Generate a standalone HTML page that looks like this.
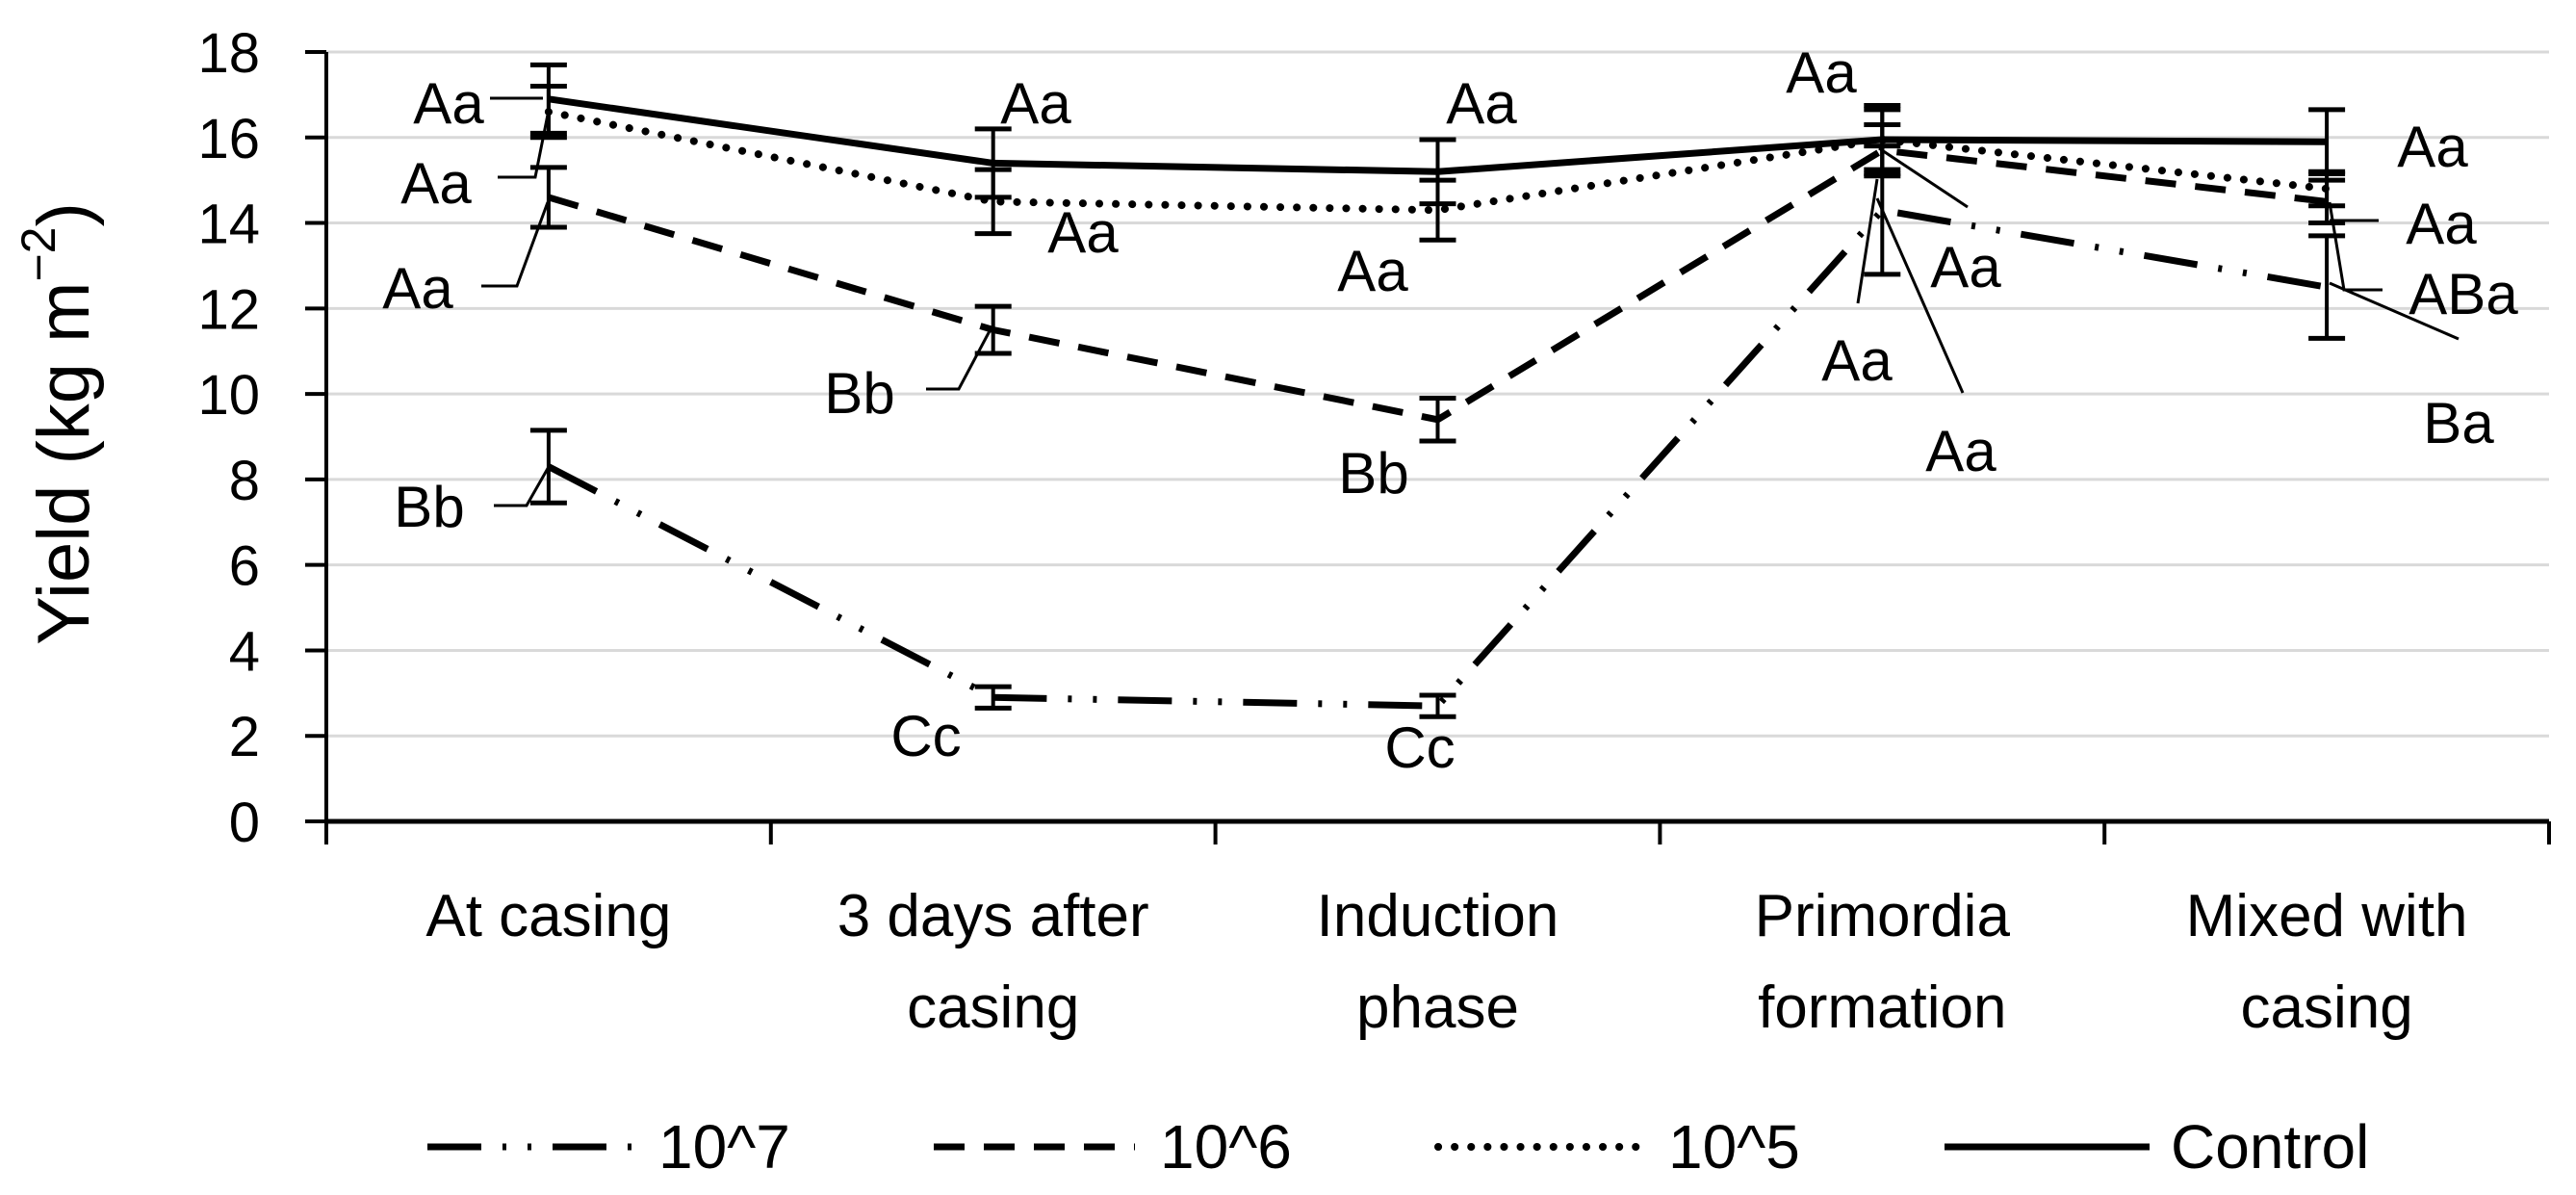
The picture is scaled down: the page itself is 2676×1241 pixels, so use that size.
<!DOCTYPE html>
<html><head><meta charset="utf-8"><style>
html,body{margin:0;padding:0;background:#fff;}
svg{display:block;font-family:"Liberation Sans",sans-serif;}
</style></head><body>
<svg id="chart" width="2676" height="1241" viewBox="0 0 2676 1241">
<g id="grid"></g>
<g id="axes"></g>
<g id="series"></g>
<g id="labels"></g>
<g id="legend"></g>
<text transform="translate(72,440) rotate(-90)" text-anchor="middle" font-size="76" dominant-baseline="middle">Yield (kg m<tspan dy="-28" font-size="50">−2</tspan><tspan dy="28">)</tspan></text>
</svg>
<script>
const categories = [["At casing"],["3 days after","casing"],["Induction","phase"],["Primordia","formation"],["Mixed with","casing"]];
const yTicks = [0,2,4,6,8,10,12,14,16,18];
const seriesNames = ["10^7","10^6","10^5","Control"];
const v7 = [8.3,2.9,2.7,14.3,12.5];
const v6 = [14.6,11.5,9.4,15.7,14.5];
const v5 = [16.6,14.5,14.3,15.95,14.8];
const vC = [16.9,15.4,15.2,15.95,15.9];
const e7 = [0.85,0.25,0.25,1.5,1.2];
const e6 = [0.7,0.55,0.5,0.6,0.5];
const e5 = [0.6,0.75,0.7,0.7,0.4];
const eC = [0.8,0.8,0.75,0.8,0.75];

const NS="http://www.w3.org/2000/svg";
const X0=339, X1=2648, Y0=853, Y18=54;
const band=(X1-X0)/categories.length;
const xs=i=>X0+band*(i+0.5);
const ys=v=>Y0-(Y0-Y18)*v/18;
function mk(tag,attrs,parent){const e=document.createElementNS(NS,tag);for(const k in attrs)e.setAttribute(k,attrs[k]);parent.appendChild(e);return e;}
const grid=document.getElementById('grid'),axes=document.getElementById('axes'),ser=document.getElementById('series'),lab=document.getElementById('labels'),leg=document.getElementById('legend');
yTicks.forEach(t=>{
  if(t>0){const g=mk('line',{x1:X0,x2:X1,y1:ys(t),y2:ys(t),stroke:'#d9d9d9','stroke-width':3},grid);
  
  }
  const tx=mk('text',{x:270,y:ys(t)+21,'text-anchor':'end','font-size':58},axes);tx.textContent=t;
  
  
  const tk=mk('line',{x1:X0-22,x2:X0,y1:ys(t),y2:ys(t),stroke:'#000','stroke-width':4},axes);
  
  
});
const ya=mk('line',{x1:X0,x2:X0,y1:Y18,y2:Y0,stroke:'#000','stroke-width':4},axes);


const xa=mk('line',{x1:X0,x2:X1,y1:Y0,y2:Y0,stroke:'#000','stroke-width':5},axes);


for(let i=0;i<=categories.length;i++){const tk=mk('line',{x1:X0+band*i,x2:X0+band*i,y1:Y0,y2:Y0+24,stroke:'#000','stroke-width':4},axes);
  
  }
categories.forEach((c,i)=>{c.forEach((ln,j)=>{const t=mk('text',{x:xs(i),y:972+j*95,'text-anchor':'middle','font-size':62},axes);t.textContent=ln;
  
  });});

const styles=[{w:7,d:'56 22 4 22 4 22',cap:'butt'},{w:7,d:'32 20',cap:'butt'},{w:8,d:'0.1 17',cap:'round'},{w:7,d:'',cap:'butt'}];
const vals=[v7,v6,v5,vC], errs=[e7,e6,e5,eC];
vals.forEach((vs,s)=>{
  const eg=mk('g',{},ser);
  
  
  vs.forEach((v,i)=>{const x=xs(i),e=errs[s][i];
    mk('line',{x1:x,x2:x,y1:ys(v+e),y2:ys(v-e),stroke:'#000','stroke-width':4},eg);
    mk('line',{x1:x-19,x2:x+19,y1:ys(v+e),y2:ys(v+e),stroke:'#000','stroke-width':5},eg);
    mk('line',{x1:x-19,x2:x+19,y1:ys(v-e),y2:ys(v-e),stroke:'#000','stroke-width':5},eg);});
  const st=styles[s];
  const p=mk('polyline',{points:vs.map((v,i)=>xs(i)+','+ys(v)).join(' '),fill:'none',stroke:'#000','stroke-width':st.w,'stroke-dasharray':st.d,'stroke-linecap':st.cap},ser);
  
  
});

const texts=[["Aa",466,107],["Aa",453,190],["Aa",434,299],["Bb",893,408],["Bb",446,526],["Cc",962,764],["Aa",1076,107],["Aa",1125,241],
["Aa",1539,107],["Aa",1426,281],["Bb",1427,491],["Cc",1475,776],["Aa",1892,75],["Aa",2042,277],["Aa",1929,374],["Aa",2037,468],
["Aa",2527,152],["Aa",2536,232],["ABa",2559,305],["Ba",2554,439]];
texts.forEach(t=>{const e=mk('text',{x:t[1],y:t[2]+21,'text-anchor':'middle','font-size':60},lab);e.textContent=t[0];
  
  });
const leaders=["509,102 564,102","517,184 556,184 569,119","500,297 537,297 569,210","962,404 996,404 1030,340","513,525 547,525 571,483",
"1952,154 2044,215","1950,186 1930,315","1950,206 2039,408","2420,229 2471,229","2420,210 2435,301 2475,301","2420,294 2554,352"];
leaders.forEach(p=>{const e=mk('polyline',{points:p,fill:'none',stroke:'#000','stroke-width':3},lab);
  
  });

const legX=[[444,658,684],[970,1179,1205],[1494,1708,1733],[2020,2233,2255]];
seriesNames.forEach((n,s)=>{const g=mk('g',{},leg);
  
  
  const st=styles[s];
  mk('line',{x1:legX[s][0],x2:legX[s][1],y1:1191,y2:1191,stroke:'#000','stroke-width':st.w,'stroke-dasharray':st.d,'stroke-linecap':st.cap},g);
  const t=mk('text',{x:legX[s][2],y:1213,'font-size':64},g);t.textContent=n;});
</script>
</body></html>
